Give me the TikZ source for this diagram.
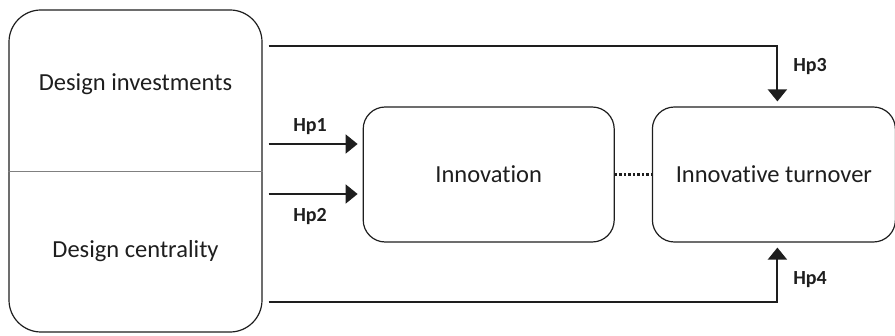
\documentclass[tikz,border=0pt]{standalone}
\usepackage{fontspec}
\setmainfont{Carlito}[Ligatures=CommonOff]
\usetikzlibrary{positioning,calc,arrows.meta}
\definecolor{ink}{RGB}{30,30,30}

\begin{document}
\begin{tikzpicture}[x=1pt,y=1pt]

		\tikzset{line/.style={draw=ink,line width=2pt}}
		\tikzset{arrow/.style={line,-{Triangle[length=12pt,width=19pt]},shorten >=5pt}}
		\tikzset{block/.style={draw=ink,line width=1.2pt,rounded corners=22pt,font=\fontsize{24.5}{29}\selectfont,text=ink}}
		\tikzset{hp/.style={font=\fontsize{20}{24}\selectfont\bfseries,text=ink}}

		\useasboundingbox (0,0) rectangle (895,335);

		% source block with two constructs
		\node[block, rounded corners=32pt, minimum width=253pt, minimum height=322pt] (src) at (135.5,164) {};
		\draw[gray, line width=1pt] (src.west) ++(0,-1) coordinate (divw) -- (divw -| src.east);
		\node[font=\fontsize{24.5}{29}\selectfont, text=ink] (inv) at (135.5,251) {Design investments};
		\node[font=\fontsize{24.5}{29}\selectfont, text=ink] (cen) at (135.5,84) {Design centrality};

		% mediator and outcome
		\node[block, minimum width=251pt, minimum height=135pt, right=100pt of src, yshift=-3.5pt] (innov) {Innovation};
		\node[block, minimum width=243pt, minimum height=135pt, right=37pt of innov] (turn) {Innovative turnover};

		\coordinate (h1) at ($(src.east)+(6,27)$);
		\coordinate (h2) at ($(src.east)+(6,-23)$);
		\coordinate (h3) at ($(src.north east)+(6,-37)$);
		\coordinate (h4) at ($(src.south east)+(6,31)$);

		\path[arrow] (h1) to (h1 -| innov.west);
		\path[arrow] (h2) to (h2 -| innov.west);
		\path[arrow] (h3) -| ([xshift=3.5pt]turn.north);
		\path[arrow] (h4) -| ([xshift=3.5pt]turn.south);
		\path[line, line width=2.5pt, dash pattern=on 2.5pt off 2pt] (innov.east) to (turn.west);

		\node[hp] (hp1) at (310,208) {Hp1};
		\node[hp] (hp2) at (310,118) {Hp2};
		\node[hp] (hp3) at (810,268) {Hp3};
		\node[hp] (hp4) at (810,55) {Hp4};

	\end{tikzpicture}
\end{document}
